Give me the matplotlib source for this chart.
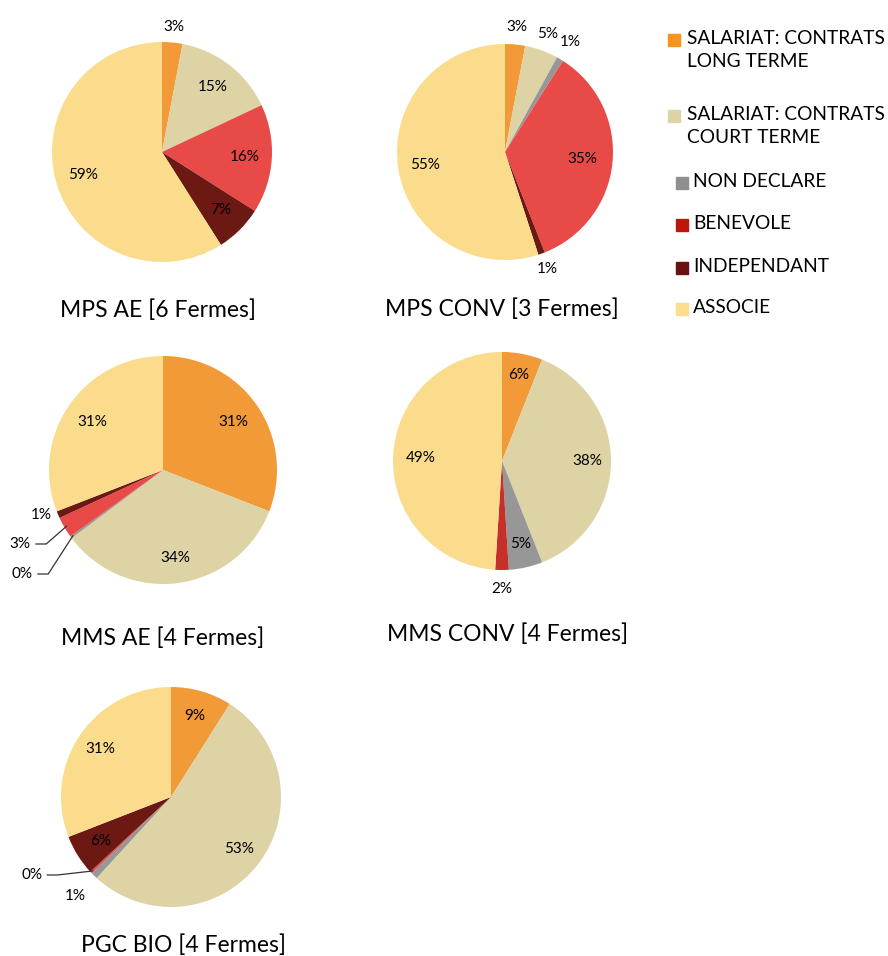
import numpy as np
import matplotlib
matplotlib.use("Agg")
import matplotlib.pyplot as plt
from matplotlib.patches import Rectangle

plt.rcParams['font.family'] = ['Lato', 'DejaVu Sans']

# categories (legend order == slice order, clockwise from 12 o'clock)
categories = ["SALARIAT: CONTRATS\nLONG TERME", "SALARIAT: CONTRATS\nCOURT TERME",
              "NON DECLARE", "BENEVOLE", "INDEPENDANT", "ASSOCIE"]
legend_colors = ["#F7941D", "#DCD4A4", "#8F8F8F", "#C0150B", "#6B1111", "#FDDD8E"]
slice_colors = ["#F19A37", "#DDD3A5", "#979797", "#E84B47", "#6C1913", "#FADC8C"]

titles = ["MPS AE [6 Fermes]", "MPS CONV [3 Fermes]", "MMS AE [4 Fermes]",
          "MMS CONV [4 Fermes]", "PGC BIO [4 Fermes]"]

# shares in %, order: long terme, court terme, non declare, benevole, independant, associe
mps_ae = [3, 15, 0, 16, 7, 59]
mps_conv = [3, 5, 1, 35, 1, 55]
mms_ae = [31, 34, 0.3, 3, 1, 31]
mms_conv = [6, 38, 5, 2, 0, 49]
pgc_bio = [9, 53, 1, 0.3, 6, 31]
series = [mps_ae, mps_conv, mms_ae, mms_conv, pgc_bio]

# layout: pie centre (px), radius (px), label radii (in pie radii), title position (px)
layout = [
    dict(c=(162, 152), r=110, lr=[1.14, 0.75, None, 0.75, 0.75, 0.75], t=(158, 310)),
    dict(c=(505, 152), r=108, lr=[1.16, 1.16, 1.18, 0.72, 1.15, 0.75], t=(502, 309)),
    dict(c=(163, 470), r=114, lr=[0.75, 0.78, "lead", "lead", 1.2, 0.75], t=(163, 638)),
    dict(c=(502, 461), r=109, lr=[0.8, 0.78, 0.78, 1.17, None, 0.75], t=(508, 634)),
    dict(c=(171, 797), r=110, lr=[0.77, 0.78, 1.17, "lead", 0.75, 0.78], t=(183, 945)),
]
# text positions (px) for labels with leader lines
leaders = {(2, 2): (22, 574), (2, 3): (20, 544), (4, 3): (32, 875)}
special = {(2, 4): (41, 515), (4, 2): (75, 896)}

W, H = 888, 956
fig = plt.figure(figsize=(W / 100, H / 100), dpi=100)
fig.patch.set_facecolor("white")

colors_per_pie = [slice_colors] * 5
colors_per_pie[3] = slice_colors[:3] + ["#C5302A"] + slice_colors[4:]

for k, (vals, lay) in enumerate(zip(series, layout)):
    cx, cy = lay["c"]
    r = lay["r"]
    span = 1.6
    size = 2 * span * r
    ax = fig.add_axes([(cx - size / 2) / W, 1 - (cy + size / 2) / H, size / W, size / H])
    wedges, _ = ax.pie(vals, colors=colors_per_pie[k], startangle=90, counterclock=False,
                       radius=1, wedgeprops=dict(linewidth=0))
    ax.set_xlim(-span, span)
    ax.set_ylim(-span, span)
    ax.set_aspect("equal")
    ax.axis("off")
    px2d = lambda x, y: ((x - cx) / r, -(y - cy) / r)
    for i, w in enumerate(wedges):
        if vals[i] == 0:
            continue
        ang = np.deg2rad((w.theta1 + w.theta2) / 2)
        txt = "%.0f%%" % vals[i]
        d = lay["lr"][i]
        if (k, i) in special:
            x, y = px2d(*special[(k, i)])
            ax.text(x, y, txt, ha="center", va="center", fontsize=11)
        elif d == "lead":
            tx, ty = px2d(*leaders[(k, i)])
            ex, ey = 0.98 * np.cos(ang), 0.98 * np.sin(ang)
            ax.text(tx, ty, txt, ha="center", va="center", fontsize=11)
            sx = tx + 0.14
            ax.plot([sx, sx + 0.09, ex], [ty, ty, ey], color="#333333", lw=0.9)
        elif d is not None:
            ax.text(d * np.cos(ang), d * np.sin(ang), txt, ha="center", va="center", fontsize=11)
    tx, ty = lay["t"]
    fig.text(tx / W, 1 - ty / H, titles[k], ha="center", va="center", fontsize=16.5)

# legend
leg_y = [40, 116, 183, 225, 268, 309]
for lab, col, y in zip(categories, legend_colors, leg_y):
    fig.patches.append(Rectangle(((668 if "\n" in lab else 676) / W, 1 - (y + 6) / H), 12 / W, 12 / H,
                                 transform=fig.transFigure, color=col, figure=fig))
    x0 = 687 if "\n" in lab else 693
    fig.text(x0 / W, 1 - (y - 10) / H, lab, ha="left", va="top", fontsize=13.8,
             linespacing=1.4)

fig.savefig("out.png", dpi=100)
